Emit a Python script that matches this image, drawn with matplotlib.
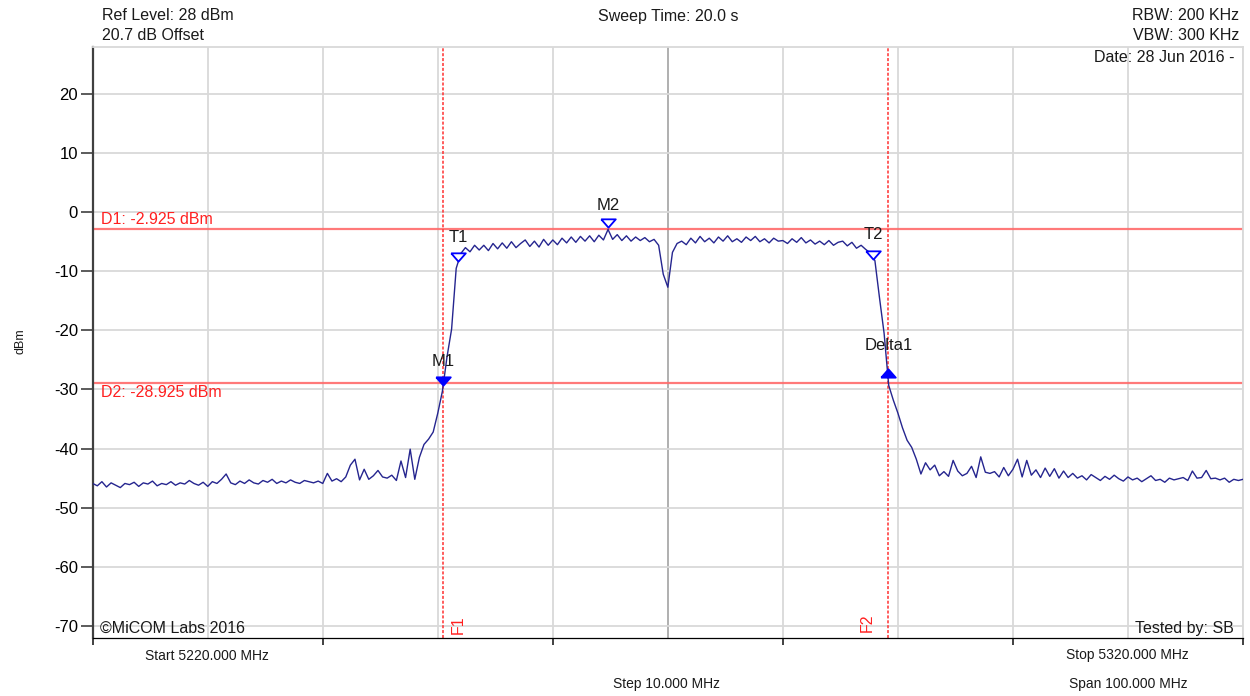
import numpy as np
import matplotlib
matplotlib.use("Agg")
import matplotlib.pyplot as plt

plt.rcParams['font.family'] = ['Liberation Sans', 'DejaVu Sans']

# ---------------- data ----------------
f_start, f_stop, f_step = 5220.0, 5320.0, 0.4
trace_dbm = [
    # 5220.0 - 5229.6
    -45.9, -46.3, -45.6, -46.5, -45.8, -46.2, -46.6, -45.9, -46.1, -45.7,
    -46.4, -45.8, -46.0, -45.5, -46.3, -45.9, -46.1, -45.6, -46.2, -45.8,
    -46.0, -45.4, -45.9, -46.2, -45.7,
    # 5230.0 - 5239.6
    -46.4, -45.6, -45.9, -45.2, -44.3, -45.8, -46.1, -45.5, -45.9, -45.3,
    -45.8, -46.0, -45.4, -45.7, -45.2, -45.9, -45.5, -45.8, -45.3, -45.7,
    -45.9, -45.4, -45.6, -45.8, -45.5,
    # 5240.0 - 5249.6
    -45.9, -44.2, -45.5, -45.1, -45.6, -44.8, -42.8, -41.8, -45.3, -43.5,
    -45.2, -44.6, -43.7, -44.8, -45.0, -44.5, -45.4, -42.1, -44.9, -40.1,
    -45.2, -41.5, -39.3, -38.4, -37.2,
    # 5250.0 - 5259.6
    -34.0, -30.3, -24.5, -19.8, -9.5, -7.0, -6.0, -6.7, -5.6, -6.4,
    -5.6, -6.5, -5.3, -6.2, -5.2, -6.1, -5.0, -6.0, -5.3, -4.7,
    -5.8, -4.9, -5.9, -4.6, -5.6,
    # 5260.0 - 5269.6
    -4.7, -5.5, -4.4, -5.2, -4.2, -5.1, -4.1, -4.9, -4.0, -5.0,
    -3.9, -4.7, -2.925, -4.6, -3.8, -4.8, -4.0, -4.9, -4.2, -4.8,
    -4.3, -5.0, -4.6, -5.6, -10.5,
    # 5270.0 - 5279.6
    -12.7, -6.8, -5.3, -4.9, -5.5, -4.4, -5.2, -4.1, -5.0, -4.4,
    -5.2, -4.2, -4.9, -4.0, -5.0, -4.5, -5.1, -4.2, -4.8, -4.1,
    -5.0, -4.5, -5.2, -4.4, -4.9,
    # 5280.0 - 5289.6
    -4.8, -5.3, -4.5, -5.1, -4.3, -5.2, -4.7, -5.4, -4.9, -5.5,
    -4.8, -5.6, -5.1, -4.9, -5.7, -5.1, -6.1, -5.6, -6.3, -6.9,
    -8.2, -14.5, -20.5, -29.3, -31.8,
    # 5290.0 - 5299.6
    -34.0, -36.5, -38.6, -39.8, -41.8, -44.3, -42.4, -43.6, -42.8, -44.6,
    -43.9, -44.7, -42.0, -43.8, -44.6, -44.2, -43.0, -44.9, -41.4, -44.0,
    -44.2, -43.9, -44.8, -43.2, -44.6,
    # 5300.0 - 5309.6
    -43.5, -41.8, -44.8, -42.0, -44.5, -43.6, -44.9, -43.3, -44.7, -43.4,
    -45.0, -43.8, -44.9, -44.2, -45.0, -44.6, -45.3, -44.4, -44.9, -45.4,
    -44.7, -45.2, -44.5, -45.1, -45.5,
    # 5310.0 - 5320.0
    -44.8, -45.3, -45.0, -45.6, -45.1, -44.6, -45.4, -45.2, -45.7, -45.0,
    -45.3, -45.1, -44.9, -45.4, -43.8, -45.0, -44.9, -43.7, -45.1, -45.0,
    -45.3, -45.0, -45.7, -45.2, -45.4, -45.2,
]
freqs = np.arange(len(trace_dbm)) * f_step + f_start

y_min, y_max = -72, 28
y_ticks = [-70, -60, -50, -40, -30, -20, -10, 0, 10, 20]

d_levels = [-2.925, -28.925]
d_labels = ["D1: -2.925 dBm", "D2: -28.925 dBm"]
f_lines = [5250.49, 5289.18]
f_labels = ["F1", "F2"]

marker_names = ["M1", "M2", "T1", "T2", "Delta1"]
marker_freqs = [5250.49, 5264.8, 5251.8, 5287.85, 5289.18]
marker_levels = [-28.49, -1.91, -7.56, -7.27, -27.17]
marker_filled = [True, False, False, False, True]
marker_up = [False, False, False, False, True]

# ---------------- figure ----------------
W, H = 1250, 696
fig = plt.figure(figsize=(W / 100, H / 100), dpi=100)
L, R, T, B = 92.7, 1243.0, 46.7, 637.7
ax = fig.add_axes([L / W, 1 - B / H, (R - L) / W, (B - T) / H])

def px(x, y):
    return x / W, 1 - y / H

ax.set_xlim(f_start, f_stop)
ax.set_ylim(y_min, y_max)

# grid
grid_c = '#d9d9d9'
for g in np.arange(f_start + 10, f_stop + 0.1, 10):
    c = '#a9a9a9' if abs(g - 5270) < 1e-6 else grid_c
    ax.axvline(g, color=c, lw=1.3, zorder=0)
for g in y_ticks:
    ax.axhline(g, color=grid_c, lw=1.3, zorder=0)

# spines
ax.spines['left'].set_color('#404040')
ax.spines['left'].set_linewidth(1.6)
ax.spines['bottom'].set_color('#000000')
ax.spines['bottom'].set_linewidth(0.9)
ax.spines['top'].set_color(grid_c)
ax.spines['top'].set_linewidth(1.3)
ax.spines['right'].set_color(grid_c)
ax.spines['right'].set_linewidth(1.3)

ax.set_yticks(y_ticks)
ax.set_yticklabels([str(v) for v in y_ticks])
ax.tick_params(axis='y', direction='out', length=8.5, width=1.2, color='#404040',
               labelsize=12, pad=2)
ax.set_xticks(np.arange(f_start, f_stop + 0.1, 20))
ax.set_xticklabels([])
ax.tick_params(axis='x', direction='out', length=5, width=1.2, color='#202020')

# display lines
for lvl in d_levels:
    ax.axhline(lvl, color='#ff6b6b', lw=1.6, alpha=0.9, zorder=2)
for fl in f_lines:
    ax.axvline(fl, color='#ff3030', lw=1.1, ls=(0, (2, 1.2)), zorder=2)

# trace
ax.plot(freqs, trace_dbm, color='#25258f', lw=1.0, zorder=3)

# markers
tri_down = [(-7, 4), (7, 4), (0, -4), (-7, 4)]
tri_up = [(-7, -4), (7, -4), (0, 4), (-7, -4)]
label_offsets = [14.3, 13.7, 14.7, 15.7, 22.5]
for name, mf, ml, filled, up, off in zip(marker_names, marker_freqs, marker_levels,
                                         marker_filled, marker_up, label_offsets):
    ax.plot([mf], [ml], marker=tri_up if up else tri_down, markersize=10.5,
            markerfacecolor='#0000ff' if filled else 'white',
            markeredgecolor='#0000ff', markeredgewidth=1.3, ls='none', zorder=5)
    ax.annotate(name, (mf, ml), xytext=(0, off), textcoords='offset pixels',
                ha='center', va='baseline', fontsize=12, color='#1a1a1a', zorder=6)

# D labels
ax.annotate(d_labels[0], (f_start, d_levels[0]), xytext=(8, 5), textcoords='offset pixels',
            ha='left', va='baseline', fontsize=11.5, color='#ff2020')
ax.annotate(d_labels[1], (f_start, d_levels[1]), xytext=(8, -14), textcoords='offset pixels',
            ha='left', va='baseline', fontsize=11.5, color='#ff2020')

# F labels
fig.text(*px(458, 625), f_labels[0], rotation=90, ha='center', va='center',
         fontsize=11.5, color='#ff2020')
fig.text(*px(867.5, 623), f_labels[1], rotation=90, ha='center', va='center',
         fontsize=11.5, color='#ff2020')

# header / footer text
txt = dict(fontsize=11.5, color='#1a1a1a', va='baseline')
fig.text(*px(101.5, 20.5), "Ref Level: 28 dBm", ha='left', **txt)
fig.text(*px(101.5, 40.5), "20.7 dB Offset", ha='left', **txt)
fig.text(*px(668, 20.5), "Sweep Time: 20.0 s", ha='center', **txt)
fig.text(*px(1239, 20.5), "RBW: 200 KHz", ha='right', **txt)
fig.text(*px(1239, 40.5), "VBW: 300 KHz", ha='right', **txt)
fig.text(*px(1235, 61.5), "Date: 28 Jun 2016 -", ha='right', **txt)
fig.text(*px(100.5, 633.3), "\u00a9MiCOM Labs 2016", ha='left', **txt)
fig.text(*px(1234, 633.3), "Tested by: SB", ha='right', **txt)

sm = dict(fontsize=10, color='#1a1a1a', va='baseline')
fig.text(*px(206.5, 660), "Start 5220.000 MHz", ha='center', **sm)
fig.text(*px(1127, 659.5), "Stop 5320.000 MHz", ha='center', **sm)
fig.text(*px(666, 688.3), "Step 10.000 MHz", ha='center', **sm)
fig.text(*px(1128, 688.3), "Span 100.000 MHz", ha='center', **sm)

fig.text(*px(20, 340.7), "dBm", rotation=90, ha='center', va='center',
         fontsize=9, color='#1a1a1a')

fig.savefig("out.png", dpi=100)
